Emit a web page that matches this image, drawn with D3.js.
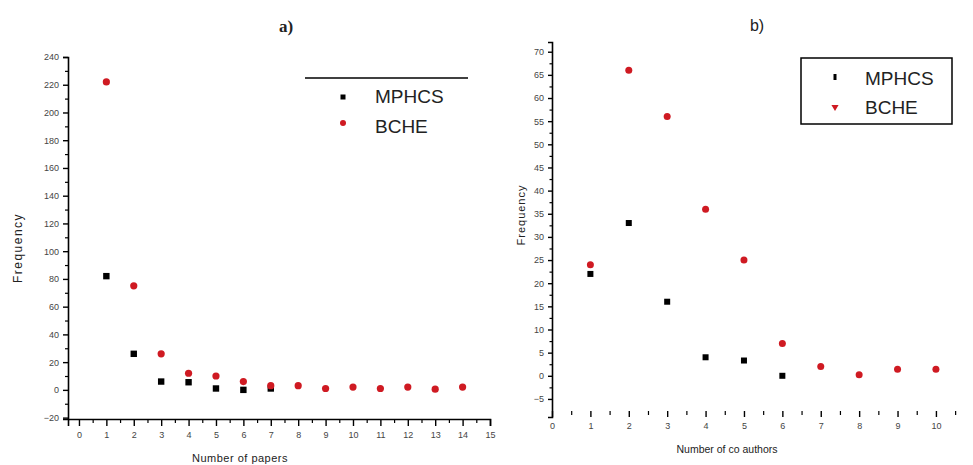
<!DOCTYPE html>
<html>
<head>
<meta charset="utf-8">
<script src="https://cdn.jsdelivr.net/npm/d3@7"></script>
<style>
  html, body { margin: 0; padding: 0; background: #fff; }
  svg { display: block; }
  text { font-family: "Liberation Sans", Arial, sans-serif; }
</style>
</head>
<body>
<svg id="chart" width="973" height="465"></svg>
<script>
// ---------- data ----------
const papersX      = [1, 2, 3, 4, 5, 6, 7];
const papersMPHCS  = [82, 26, 6, 5.5, 1, 0, 1];
const papersXB     = [1, 2, 3, 4, 5, 6, 7, 8, 9, 10, 11, 12, 13, 14];
const papersBCHE   = [222, 75, 26, 12, 10, 6, 3, 3, 1, 2, 1, 2, 0.5, 2];

const coauthX      = [1, 2, 3, 4, 5, 6];
const coauthMPHCS  = [22, 33, 16, 4, 3.3, 0];
const coauthXB     = [1, 2, 3, 4, 5, 6, 7, 8, 9, 10];
const coauthBCHE   = [24, 66, 56, 36, 25, 7, 2, 0.2, 1.4, 1.4];

const leftYTicks   = [-20, 0, 20, 40, 60, 80, 100, 120, 140, 160, 180, 200, 220, 240];
const leftXTicks   = [0, 1, 2, 3, 4, 5, 6, 7, 8, 9, 10, 11, 12, 13, 14, 15];
const rightYTicks  = [-5, 0, 5, 10, 15, 20, 25, 30, 35, 40, 45, 50, 55, 60, 65, 70];
const rightXTicks  = [0, 1, 2, 3, 4, 5, 6, 7, 8, 9, 10];
const seriesNames  = ["MPHCS", "BCHE"];

const RED = "#cf1a22";
const svg = d3.select("#chart");

function styleAxis(g) {
  g.selectAll("path.domain").attr("stroke", "#000").attr("stroke-width", 1.6);
  g.selectAll(".tick line").attr("stroke", "#000").attr("stroke-width", 1.4);
  g.selectAll(".tick text").attr("fill", "#444").style("font-size", "9px")
    .style("font-family", "'Liberation Sans', Arial, sans-serif");
}
function minor(g, axisGen) {
  g.call(axisGen);
  g.selectAll("path.domain").remove();
  g.selectAll(".tick text").remove();
  g.selectAll(".tick line").attr("stroke", "#000").attr("stroke-width", 1.2);
}

// ================= LEFT CHART (a) =================
const xL = d3.scaleLinear().domain([-0.4, 15]).range([68, 490]);
const yL = d3.scaleLinear().domain([-21, 240]).range([419, 57]);

const gLx = svg.append("g").attr("transform", `translate(0,${yL.range()[0]})`);
gLx.call(d3.axisBottom(xL).tickValues(leftXTicks).tickFormat(d3.format("d")).tickSizeOuter(0).tickSize(7).tickPadding(6));
styleAxis(gLx);
svg.append("g").attr("transform", `translate(0,${yL.range()[0]})`)
  .call(g => minor(g, d3.axisBottom(xL).tickValues(leftXTicks.slice(0, -1).map(d => d + 0.5)).tickSize(4)));

const gLy = svg.append("g").attr("transform", `translate(${xL.range()[0]},0)`);
gLy.call(d3.axisLeft(yL).tickValues(leftYTicks).tickFormat(d3.format("d")).tickSizeOuter(0).tickSize(5).tickPadding(4));
styleAxis(gLy);
svg.append("g").attr("transform", `translate(${xL.range()[0]},0)`)
  .call(g => minor(g, d3.axisLeft(yL).tickValues(leftYTicks.slice(0, -1).map(d => d + 10)).tickSize(3)));

// points
svg.append("g").selectAll("rect").data(papersX.map((x, i) => [x, papersMPHCS[i]])).join("rect")
  .attr("x", d => xL(d[0]) - 3.2).attr("y", d => yL(d[1]) - 3.2)
  .attr("width", 6.4).attr("height", 6.4).attr("fill", "#000");
svg.append("g").selectAll("circle").data(papersXB.map((x, i) => [x, papersBCHE[i]])).join("circle")
  .attr("cx", d => xL(d[0])).attr("cy", d => yL(d[1])).attr("r", 3.6).attr("fill", RED);

// titles
svg.append("text").attr("x", 286).attr("y", 32).attr("text-anchor", "middle")
  .style("font-family", "'Liberation Serif', 'Times New Roman', serif").style("font-size", "17px")
  .style("font-weight", "bold").attr("fill", "#222").text("a)");
svg.append("text").attr("transform", "translate(22,248) rotate(-90)").attr("text-anchor", "middle")
  .style("font-size", "12px").style("letter-spacing", "1.5px").attr("fill", "#222").text("Frequency");
svg.append("text").attr("x", 240).attr("y", 462).attr("text-anchor", "middle")
  .style("font-size", "11px").style("letter-spacing", "0.5px").attr("fill", "#222").text("Number of papers");

// legend (left)
svg.append("line").attr("x1", 305).attr("x2", 468).attr("y1", 78).attr("y2", 78)
  .attr("stroke", "#000").attr("stroke-width", 1.5);
svg.append("rect").attr("x", 340.5).attr("y", 94.5).attr("width", 5).attr("height", 5).attr("fill", "#000");
svg.append("circle").attr("cx", 343).attr("cy", 123).attr("r", 3).attr("fill", RED);
svg.append("text").attr("x", 375).attr("y", 103).style("font-size", "19px").attr("fill", "#222").text(seriesNames[0]);
svg.append("text").attr("x", 375).attr("y", 133).style("font-size", "19px").attr("fill", "#222").text(seriesNames[1]);

// ================= RIGHT CHART (b) =================
const xR = d3.scaleLinear().domain([0, 11.2]).range([552, 982]);
const yR = d3.scaleLinear().domain([-8.9, 72.1]).range([417, 42]);

const gRx = svg.append("g").attr("transform", `translate(0,411)`);
gRx.call(d3.axisBottom(xR).tickValues(rightXTicks).tickFormat(d3.format("d")).tickSizeOuter(0).tickSize(6).tickPadding(6));
styleAxis(gRx);
gRx.select("path.domain").remove();
svg.append("g").attr("transform", `translate(0,411)`)
  .call(g => minor(g, d3.axisBottom(xR).tickValues(rightXTicks.map(d => d + 0.5)).tickSize(4)));

const gRy = svg.append("g").attr("transform", `translate(${xR.range()[0]},0)`);
gRy.call(d3.axisLeft(yR).tickValues(rightYTicks).tickFormat(d3.format("d")).tickSizeOuter(0).tickSize(4).tickPadding(4));
styleAxis(gRy);
svg.append("g").attr("transform", `translate(${xR.range()[0]},0)`)
  .call(g => minor(g, d3.axisLeft(yR).tickValues(rightYTicks.slice(0, -1).map(d => d + 2.5)).tickSize(2.5)));

svg.append("g").selectAll("rect").data(coauthX.map((x, i) => [x, coauthMPHCS[i]])).join("rect")
  .attr("x", d => xR(d[0]) - 3).attr("y", d => yR(d[1]) - 3)
  .attr("width", 6).attr("height", 6).attr("fill", "#000");
svg.append("g").selectAll("circle").data(coauthXB.map((x, i) => [x, coauthBCHE[i]])).join("circle")
  .attr("cx", d => xR(d[0])).attr("cy", d => yR(d[1])).attr("r", 3.5).attr("fill", RED);

svg.append("text").attr("x", 757).attr("y", 31).attr("text-anchor", "middle")
  .style("font-family", "'Liberation Sans', Arial, sans-serif").style("font-size", "16px")
  .attr("fill", "#222").text("b)");
svg.append("text").attr("transform", "translate(525,215) rotate(-90)").attr("text-anchor", "middle")
  .style("font-size", "11px").style("letter-spacing", "1px").attr("fill", "#222").text("Frequency");
svg.append("text").attr("x", 727).attr("y", 453).attr("text-anchor", "middle")
  .style("font-size", "10.5px").attr("fill", "#222").text("Number of co authors");

// legend (right)
svg.append("rect").attr("x", 801).attr("y", 58).attr("width", 151).attr("height", 66)
  .attr("fill", "none").attr("stroke", "#000").attr("stroke-width", 1.5);
svg.append("rect").attr("x", 833.5).attr("y", 74).attr("width", 3).attr("height", 6).attr("fill", "#000");
svg.append("path").attr("d", d3.symbol(d3.symbolTriangle, 22)()).attr("fill", RED)
  .attr("transform", "translate(835,107) rotate(180)");
svg.append("text").attr("x", 865).attr("y", 85).style("font-size", "19px").attr("fill", "#222").text(seriesNames[0]);
svg.append("text").attr("x", 865).attr("y", 114).style("font-size", "19px").attr("fill", "#222").text(seriesNames[1]);
</script>
</body>
</html>
